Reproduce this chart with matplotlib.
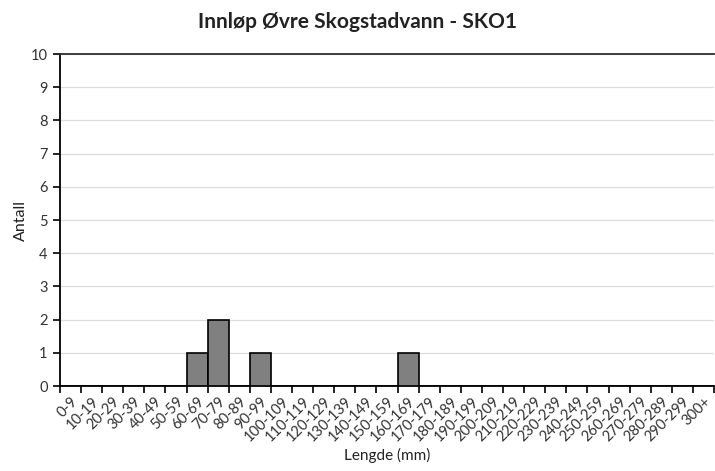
import matplotlib
matplotlib.use("Agg")
import matplotlib.pyplot as plt
import numpy as np

plt.rcParams['font.family'] = ['Lato', 'DejaVu Sans']

categories = ["0-9", "10-19", "20-29", "30-39", "40-49", "50-59", "60-69", "70-79",
              "80-89", "90-99", "100-109", "110-119", "120-129", "130-139", "140-149",
              "150-159", "160-169", "170-179", "180-189", "190-199", "200-209",
              "210-219", "220-229", "230-239", "240-249", "250-259", "260-269",
              "270-279", "280-289", "290-299", "300+"]
counts = [0, 0, 0, 0, 0, 0, 1, 2, 0, 1, 0, 0, 0, 0, 0, 0, 1, 0, 0, 0, 0,
          0, 0, 0, 0, 0, 0, 0, 0, 0, 0]
y_ticks = list(range(0, 11))

fig = plt.figure(figsize=(7.15, 4.71), dpi=100)
ax = fig.add_axes([60 / 715, 1 - 386 / 471, 654 / 715, 332 / 471])

x = np.arange(len(categories))
ax.bar(x, counts, width=1.0, color="#808080", edgecolor="#000000", linewidth=1.2, zorder=3)

ax.set_xlim(-0.5, len(categories) - 0.5)
ax.set_ylim(0, 10)
ax.set_yticks(y_ticks)
ax.set_yticklabels([str(v) for v in y_ticks], fontsize=10.5, color="#333333")

# category labels at bar centres, tick marks at category boundaries
ax.set_xticks(x)
ax.set_xticklabels(categories, rotation=45, ha="right", rotation_mode="anchor",
                   fontsize=10.5, color="#333333")
ax.tick_params(axis="x", which="major", length=0, pad=6)
ax.set_xticks(np.arange(-0.5, len(categories) + 0.5, 1.0), minor=True)
ax.tick_params(axis="x", which="minor", length=5, width=1.2, direction="out", color="#000000")
ax.tick_params(axis="y", length=5, width=1.2, direction="out", color="#000000", pad=4)

ax.grid(axis="y", color="#dcdcdc", linewidth=0.9, zorder=0)
ax.set_axisbelow(True)

for side in ("left", "bottom"):
    ax.spines[side].set_color("#000000")
    ax.spines[side].set_linewidth(1.3)
ax.spines["top"].set_color("#303030")
ax.spines["top"].set_linewidth(1.3)
ax.spines["right"].set_visible(False)

ax.set_ylabel("Antall", fontsize=11.5, color="#222222", labelpad=2)
ax.set_xlabel("Lengde (mm)", fontsize=11, color="#222222", labelpad=3)
fig.text(0.5, 1 - 22 / 471, "Innløp Øvre Skogstadvann - SKO1", ha="center", va="center",
         fontsize=15, fontweight="bold", color="#222222")

fig.savefig("out.png", dpi=100, facecolor="white")
